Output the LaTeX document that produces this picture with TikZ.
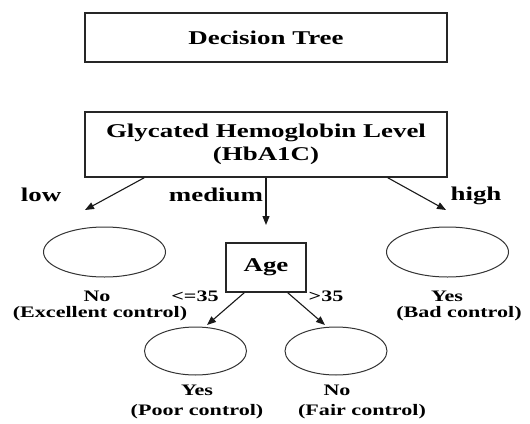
\documentclass[tikz,border=0pt]{standalone}
\usepackage{fontspec}
\setmainfont{Liberation Serif}[FakeStretch=1.38]
\usetikzlibrary{arrows.meta,shapes.geometric}

\begin{document}
\begin{tikzpicture}[x=1pt, y=-1pt, >={Triangle[length=9pt,width=7pt]},
    every node/.style={font=\fontsize{19.5}{23}\selectfont\bfseries, inner sep=0pt},
    box/.style={draw=black!85, line width=1.4pt, minimum width=362pt},
    leaf/.style={draw=black!80, line width=1pt, ellipse, minimum width=122pt, minimum height=50pt},
    small/.style={font=\fontsize{16}{18}\selectfont\bfseries},
    link/.style={->, line width=1.1pt, black!90}]
  \useasboundingbox (0,0) rectangle (530,423);

  % title and root test
  \node[box, minimum height=49pt] (title) at (266,37.5) {Decision Tree};
  \node[box, minimum height=65pt, align=center] (root) at (266,144.5)
    {Glycated Hemoglobin Level\\(HbA1C)};

  % first level: leaves and the age test
  \node[leaf] (excl) at (104.5,252) {};
  \node[leaf] (bad) at (447.5,252) {};
  \node[box, minimum width=80pt, minimum height=49pt] (age) at (266,267.5) {Age};

  % second level leaves
  \node[leaf, minimum width=102pt, minimum height=48pt] (poor) at (195.5,351) {};
  \node[leaf, minimum width=102pt, minimum height=48pt] (fair) at (336,351) {};

  % free ends of the arrows
  \coordinate (lowtip) at (85,210);
  \coordinate (medtip) at (266,225);
  \coordinate (hightip) at (446,210);
  \coordinate (youngtip) at (207,325);
  \coordinate (oldtip) at (325,325);

  \draw[link] ([xshift=60pt]root.south west) -- (lowtip);
  \draw[link] (root.south) -- (medtip);
  \draw[link] ([xshift=-60pt]root.south east) -- (hightip);
  \draw[link] ([xshift=19pt]age.south west) -- (youngtip);
  \draw[link] ([xshift=-19pt]age.south east) -- (oldtip);

  % branch labels
  \node (low) at (41,195) {low};
  \node (medium) at (216,195) {medium};
  \node (high) at (476,196) {high};
  \node[small] (young) at (195,296) {<=35};
  \node[small] (old) at (326,296) {>35};

  % leaf labels
  \node[small] (exclans) at (97,296) {No};
  \node[small] (excltxt) at (100,314) {(Excellent control)};
  \node[small] (badans) at (447,296) {Yes};
  \node[small] (badtxt) at (459,314) {(Bad control)};
  \node[small] (poorans) at (197,390) {Yes};
  \node[small] (poortxt) at (197,412) {(Poor control)};
  \node[small] (fairans) at (337,390) {No};
  \node[small] (fairtxt) at (362,412) {(Fair control)};
\end{tikzpicture}
\end{document}
